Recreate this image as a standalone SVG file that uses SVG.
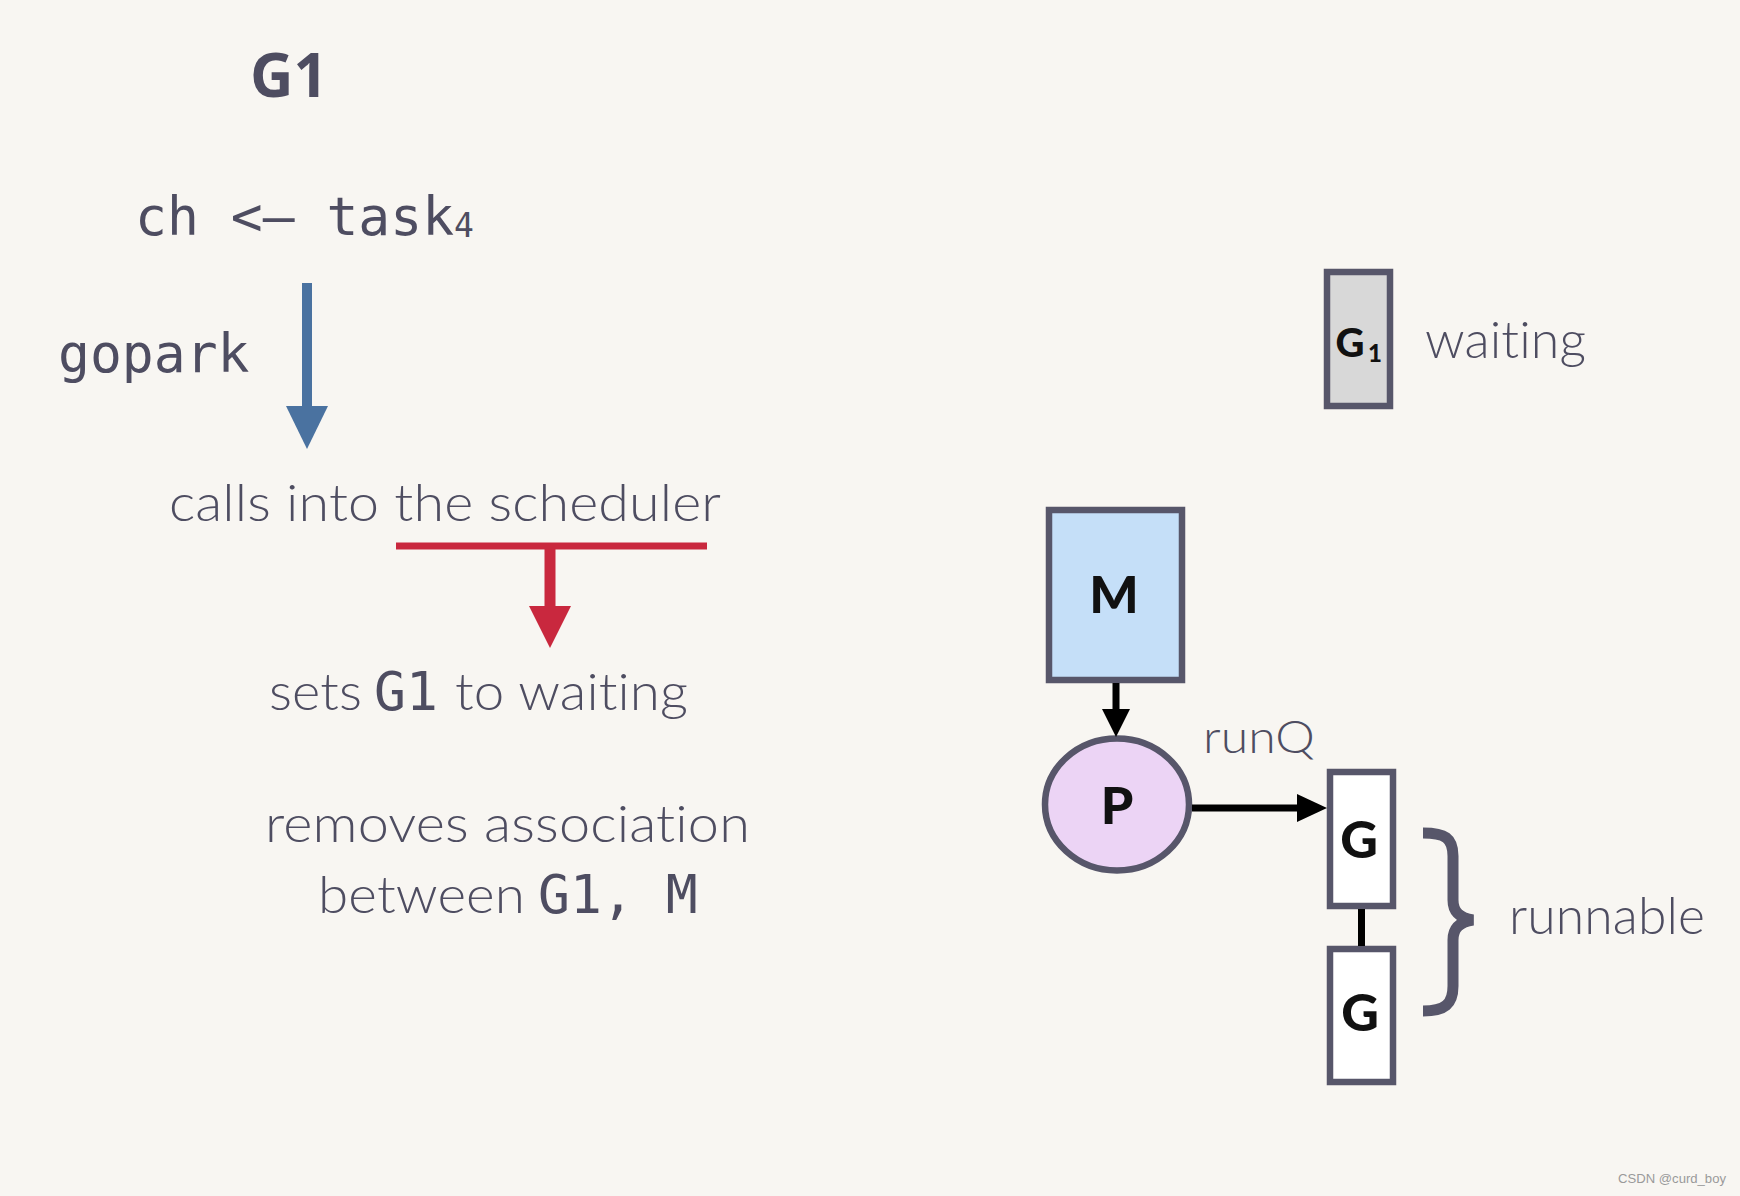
<svg xmlns="http://www.w3.org/2000/svg" width="1740" height="1196" viewBox="0 0 1740 1196">
<style>
text{font-variant-ligatures:none;font-feature-settings:"liga" 0,"clig" 0,"dlig" 0,"calt" 0}
.mono{font-family:"DejaVu Sans Mono","Liberation Mono",monospace;fill:#4e4d61;font-size:53px}
.sans{font-family:Lato,"Noto Sans","Liberation Sans",sans-serif;font-weight:300;fill:#4e4d61;font-size:52px;letter-spacing:0.1px}
.lbl{font-family:Lato,"Noto Sans","Liberation Sans",sans-serif;font-weight:900;fill:#111;font-size:52px;text-anchor:middle}
.box{stroke:#57566a;stroke-width:6.5}
.blk{stroke:#000;stroke-width:7;fill:none}
</style>
<rect width="1740" height="1196" fill="#f8f6f2"/>

<g id="left-text">
<text x="250" y="97" font-family="'Open Sans','DejaVu Sans',sans-serif" font-weight="bold" font-size="60" fill="#4e4d61">G1</text>
<text class="mono" x="135" y="235">ch &lt;&#8211; task<tspan style="font-size:33px" dy="2">4</tspan></text>
<text class="mono" x="58" y="372">gopark</text>
<text class="sans" x="169" y="521" textLength="552" lengthAdjust="spacingAndGlyphs">calls into the scheduler</text>
<text class="sans" x="269" y="710" textLength="93" lengthAdjust="spacingAndGlyphs">sets</text>
<text class="mono" x="374" y="710">G1</text>
<text class="sans" x="455" y="710" textLength="233" lengthAdjust="spacingAndGlyphs">to waiting</text>
<text class="sans" x="265" y="842" textLength="485" lengthAdjust="spacingAndGlyphs">removes association</text>
<text class="sans" x="318" y="913" textLength="207" lengthAdjust="spacingAndGlyphs">between</text>
<text class="mono" x="538" y="913">G1, M</text>
</g>

<g id="flow-arrows">
<line x1="307" y1="283" x2="307" y2="410" stroke="#4a72a0" stroke-width="10"/>
<polygon points="286,406 328,406 307,449" fill="#4a72a0"/>
<line x1="396" y1="546" x2="707" y2="546" stroke="#c9283e" stroke-width="7"/>
<line x1="550" y1="546" x2="550" y2="610" stroke="#c9283e" stroke-width="11"/>
<polygon points="529,606 571,606 550,648" fill="#c9283e"/>
</g>

<g id="node-G1-waiting">
<rect class="box" x="1327" y="272" width="63" height="134" fill="#d8d8d8"/>
<text class="lbl" x="1350" y="357" style="font-size:40px">G</text>
<text class="lbl" x="1375" y="362" style="font-size:24px">1</text>
</g>
<text class="sans" x="1425" y="358" textLength="161" lengthAdjust="spacingAndGlyphs">waiting</text>

<g id="node-M">
<rect class="box" x="1049" y="510" width="133" height="170" fill="#c5dff8"/>
<text class="lbl" x="1114" y="613">M</text>
</g>

<g id="node-P">
<ellipse class="box" cx="1117" cy="804.5" rx="72" ry="66" fill="#ecd4f5"/>
<text class="lbl" x="1117" y="824">P</text>
</g>

<g id="node-G-a">
<rect class="box" x="1330" y="772" width="63" height="134" fill="#ffffff"/>
<text class="lbl" x="1359" y="858">G</text>
</g>

<g id="node-G-b">
<rect class="box" x="1330" y="949" width="63" height="133" fill="#ffffff"/>
<text class="lbl" x="1360" y="1031">G</text>
</g>

<g id="connectors">
<line class="blk" x1="1116" y1="683" x2="1116" y2="713"/>
<polygon points="1102,709 1130,709 1116,737" fill="#000"/>
<line class="blk" x1="1192" y1="808" x2="1300" y2="808"/>
<polygon points="1297,794 1297,822 1327,808" fill="#000"/>
<line class="blk" x1="1361.5" y1="909" x2="1361.5" y2="946"/>
</g>

<text class="sans" x="1203" y="753" style="font-size:46px" textLength="112" lengthAdjust="spacingAndGlyphs">runQ</text>

<g id="brace">
<path d="M1423,833 C1445,833 1453,838 1453,856 L1453,900 C1453,912 1460,918 1473,920 C1460,922 1453,928 1453,940 L1453,986 C1453,1004 1445,1011 1423,1011" fill="none" stroke="#57566a" stroke-width="11"/>
</g>
<text class="sans" x="1509" y="934" textLength="196" lengthAdjust="spacingAndGlyphs">runnable</text>

<text x="1618" y="1183" font-family="Liberation Sans, Arial, sans-serif" font-size="13" fill="#9a9a9a" textLength="108" lengthAdjust="spacingAndGlyphs">CSDN @curd_boy</text>
</svg>
